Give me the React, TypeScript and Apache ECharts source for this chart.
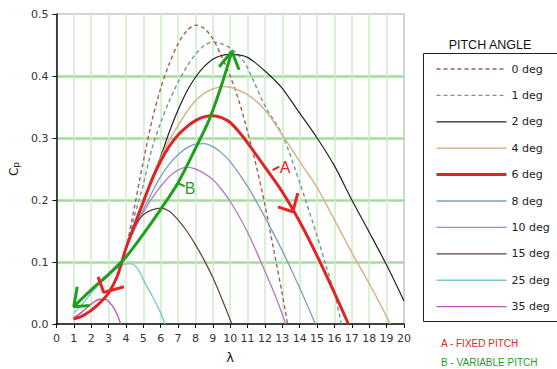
import React, { useEffect, useRef } from "react";
import * as echarts from "echarts";

type P = [number, number];

const PITCH_NAMES = ["0 deg", "1 deg", "2 deg", "4 deg", "6 deg", "8 deg", "10 deg", "15 deg", "25 deg", "35 deg"];

// shared low-λ segment of most curves
const LOW: P[] = [[1, 0.008], [1.5, 0.013], [2, 0.022], [2.5, 0.034], [3, 0.05], [3.5, 0.077], [4, 0.122]];

const CP_0: P[] = [[4.5, 0.19], [5, 0.262], [5.5, 0.328], [6, 0.38], [6.5, 0.42], [7, 0.452], [7.5, 0.473], [8, 0.482], [8.5, 0.477], [9, 0.46], [9.5, 0.432], [10, 0.4], [10.5, 0.36], [11, 0.31], [11.5, 0.255], [12, 0.192], [12.5, 0.12], [13, 0.048], [13.3, 0]];
const CP_1: P[] = [[4.5, 0.175], [5, 0.225], [5.5, 0.283], [6, 0.325], [6.5, 0.36], [7, 0.39], [7.5, 0.415], [8, 0.435], [8.5, 0.449], [9, 0.455], [9.5, 0.452], [10, 0.445], [10.6, 0.43], [11, 0.413], [12, 0.352], [13, 0.305], [14, 0.228], [15, 0.142], [15.5, 0.095], [16, 0.05], [16.4, 0]];
const CP_2: P[] = [[4.5, 0.16], [5, 0.195], [5.5, 0.235], [6, 0.27], [6.5, 0.31], [7, 0.345], [7.5, 0.375], [8, 0.398], [8.5, 0.415], [9, 0.427], [9.5, 0.433], [10, 0.435], [10.5, 0.434], [11, 0.43], [11.5, 0.42], [12, 0.408], [12.5, 0.395], [13, 0.38], [14, 0.34], [15, 0.3], [16, 0.255], [17, 0.2], [18, 0.148], [19, 0.095], [20, 0.037]];
const CP_4: P[] = [[4.5, 0.16], [5, 0.197], [5.5, 0.235], [6, 0.268], [6.5, 0.297], [7, 0.32], [7.5, 0.342], [8, 0.36], [8.5, 0.372], [9, 0.379], [9.6, 0.383], [10, 0.382], [11, 0.37], [12, 0.345], [13, 0.305], [14, 0.262], [15, 0.22], [16, 0.168], [17, 0.115], [18, 0.065], [19, 0.012], [19.2, 0]];
const CP_6: P[] = [[4.5, 0.16], [5, 0.197], [5.5, 0.233], [6, 0.263], [6.5, 0.287], [7, 0.305], [7.5, 0.318], [8, 0.328], [8.5, 0.334], [9, 0.336], [9.5, 0.333], [10, 0.325], [10.5, 0.31], [11, 0.292], [12, 0.253], [13, 0.213], [14, 0.165], [15, 0.11], [16, 0.05], [16.8, 0]];
const CP_8: P[] = [[4.5, 0.155], [5, 0.185], [5.5, 0.212], [6, 0.238], [6.5, 0.258], [7, 0.273], [7.5, 0.284], [8, 0.29], [8.5, 0.291], [9, 0.286], [9.5, 0.276], [10, 0.262], [11, 0.222], [12, 0.172], [13, 0.118], [14, 0.058], [14.9, 0]];
const CP_10: P[] = [[4.5, 0.152], [5, 0.18], [5.5, 0.203], [6, 0.222], [6.5, 0.238], [7, 0.248], [7.5, 0.253], [8, 0.25], [8.5, 0.243], [9, 0.233], [9.5, 0.217], [10, 0.198], [11, 0.148], [12, 0.085], [12.6, 0.045], [13.2, 0]];
const CP_15: P[] = [[4.5, 0.158], [5, 0.176], [5.5, 0.184], [6, 0.187], [6.5, 0.182], [7, 0.168], [7.5, 0.15], [8, 0.128], [8.5, 0.103], [9, 0.075], [9.5, 0.042], [10.1, 0]];
const CP_25: P[] = [[1, 0.018], [1.5, 0.032], [2, 0.05], [2.5, 0.065], [3, 0.078], [3.5, 0.09], [4, 0.097], [4.3, 0.097], [4.7, 0.088], [5.1, 0.066], [5.5, 0.046], [6, 0.018], [6.25, 0]];
const CP_35: P[] = [[1, 0.01], [1.5, 0.02], [2, 0.032], [2.5, 0.04], [2.8, 0.04], [3.2, 0.03], [3.5, 0.015], [3.7, 0]];

// annotations (data coordinates)
const PATH_B: P[] = [[1.0, 0.028], [2, 0.055], [3, 0.08], [4, 0.108], [5, 0.145], [6, 0.185], [7, 0.228], [8, 0.283], [8.8, 0.33], [9.5, 0.385], [10.1, 0.44]];
const ARROW_B_TOP: P[] = [[9.37, 0.415], [10.1, 0.44], [10.51, 0.41]];
const ARROW_B_BOTTOM: P[] = [[1.2, 0.06], [1.0, 0.028], [1.9, 0.03]];
const TICK_B: P[] = [[7.01, 0.227], [7.39, 0.222]];
const ARROW_A_TOP: P[] = [[12.74, 0.189], [13.6, 0.181], [13.89, 0.211]];
const ARROW_A_BOTTOM: P[] = [[2.4, 0.076], [2.72, 0.051], [3.89, 0.06]];
const TICK_A: P[] = [[12.44, 0.248], [12.82, 0.254]];

const FONT = "DejaVu Sans, Liberation Sans, sans-serif";
const RED = "#ee2222";
const GREEN = "#1ea01e";

function curve(name: string, data: P[], color: string, width: number, dashed: boolean, z = 3) {
  return {
    type: "line",
    name,
    data,
    smooth: 0.3,
    symbol: "none",
    z,
    lineStyle: { color, width, type: dashed ? [4, 3] : "solid" },
    itemStyle: { color },
    silent: true,
  };
}

function annot(name: string, data: P[], color: string, width: number, smooth = false) {
  return {
    type: "line",
    name,
    data,
    smooth: smooth ? 0.3 : false,
    symbol: "none",
    z: 6,
    lineStyle: { color, width },
    itemStyle: { color },
    silent: true,
  };
}

export default function App() {
  const ref = useRef<HTMLDivElement>(null);
  useEffect(() => {
    if (!ref.current) return;
    const chart = echarts.init(ref.current, undefined, { renderer: "svg" });
    const option: any = {
      animation: false,
      backgroundColor: "#ffffff",
      grid: { left: 54, right: 153, top: 14, bottom: 45, show: true, borderColor: "#a8a8a8", borderWidth: 1 },
      xAxis: {
        type: "value",
        min: 0,
        max: 20,
        interval: 1,
        name: "λ",
        nameLocation: "middle",
        nameGap: 27,
        nameTextStyle: { fontSize: 13, color: "#222", fontFamily: FONT },
        axisLine: { lineStyle: { color: "#111", width: 1.5 } },
        axisTick: { show: true, length: 4, lineStyle: { color: "#111" } },
        axisLabel: { fontSize: 11, color: "#333", fontFamily: FONT, margin: 9 },
        splitLine: { show: true, showMinLine: false, showMaxLine: false, lineStyle: { color: "#cdeec5", width: 1.5 } },
      },
      yAxis: {
        type: "value",
        min: 0,
        max: 0.5,
        interval: 0.1,
        name: "C{s|p}",
        nameLocation: "middle",
        nameRotate: 90,
        nameGap: 34,
        nameTextStyle: { fontSize: 12, color: "#222", fontFamily: FONT, rich: { s: { fontSize: 9, color: "#222", fontFamily: FONT, verticalAlign: "bottom" } } },
        axisLine: { show: true, lineStyle: { color: "#111", width: 1.5 } },
        axisTick: { show: true, length: 4, lineStyle: { color: "#111" } },
        axisLabel: { fontSize: 11, color: "#333", fontFamily: FONT, margin: 8, formatter: (v: number) => v.toFixed(1) },
        splitLine: { show: true, showMinLine: false, showMaxLine: false, lineStyle: { color: "#a3dc9d", width: 2.5 } },
      },
      legend: {
        data: PITCH_NAMES,
        orient: "vertical",
        left: 435,
        top: 62,
        itemWidth: 70,
        itemHeight: 14,
        itemGap: 12.4,
        padding: 0,
        selectedMode: false,
        itemStyle: { opacity: 0, borderWidth: 0 },
        lineStyle: { width: "inherit" },
        textStyle: { fontSize: 11, color: "#222", fontFamily: FONT, lineHeight: 14 },
      },
      series: [
        curve("0 deg", [...LOW, ...CP_0], "#a0605c", 1.4, true),
        curve("1 deg", [...LOW, ...CP_1], "#6c9c92", 1.4, true),
        curve("2 deg", [...LOW, ...CP_2], "#222222", 1.2, false),
        curve("4 deg", [...LOW, ...CP_4], "#d9b38c", 1.5, false),
        curve("6 deg", [...LOW, ...CP_6], "#de2424", 3, false, 5),
        curve("8 deg", [...LOW, ...CP_8], "#7b9ec0", 1.3, false),
        curve("10 deg", [...LOW, ...CP_10], "#b87cc8", 1.4, false),
        curve("15 deg", [...LOW, ...CP_15], "#5c4038", 1.2, false),
        curve("25 deg", CP_25, "#7cc6cc", 1.4, false),
        curve("35 deg", CP_35, "#b45cb8", 1.4, false),
        annot("B path", PATH_B, GREEN, 3, true),
        annot("B arrow top", ARROW_B_TOP, GREEN, 3),
        annot("B arrow bottom", ARROW_B_BOTTOM, GREEN, 3),
        annot("B tick", TICK_B, GREEN, 2),
        annot("A arrow top", ARROW_A_TOP, RED, 3),
        annot("A arrow bottom", ARROW_A_BOTTOM, RED, 3),
        annot("A tick", TICK_A, RED, 2),
      ],
      graphic: [
        { type: "rect", shape: { x: 423.5, y: 53.5, width: 150, height: 268 }, style: { fill: "none", stroke: "#222", lineWidth: 1 }, silent: true },
        { type: "text", x: 490, y: 45, style: { text: "PITCH ANGLE", fontSize: 12.5, fill: "#111", fontFamily: "Liberation Sans, Arial, sans-serif", align: "center", verticalAlign: "middle" } },
        { type: "text", x: 441, y: 343, style: { text: "A - FIXED PITCH", fontSize: 10, fill: RED, fontFamily: "Liberation Sans Narrow, Liberation Sans, sans-serif", align: "left", verticalAlign: "middle" } },
        { type: "text", x: 441, y: 362, style: { text: "B - VARIABLE PITCH", fontSize: 10, fill: GREEN, fontFamily: "Liberation Sans Narrow, Liberation Sans, sans-serif", align: "left", verticalAlign: "middle" } },
        { type: "text", x: 285, y: 167, z: 10, style: { text: "A", fontSize: 16, fill: RED, fontFamily: "Liberation Sans, Arial, sans-serif", align: "center", verticalAlign: "middle" } },
        { type: "text", x: 190, y: 188, z: 10, style: { text: "B", fontSize: 16, fill: GREEN, fontFamily: "Liberation Sans, Arial, sans-serif", align: "center", verticalAlign: "middle" } },
      ],
    };
    chart.setOption(option);
    return () => chart.dispose();
  }, []);
  return <div ref={ref} style={{ width: 557, height: 369, position: "absolute", left: 0, top: 0 }} />;
}
